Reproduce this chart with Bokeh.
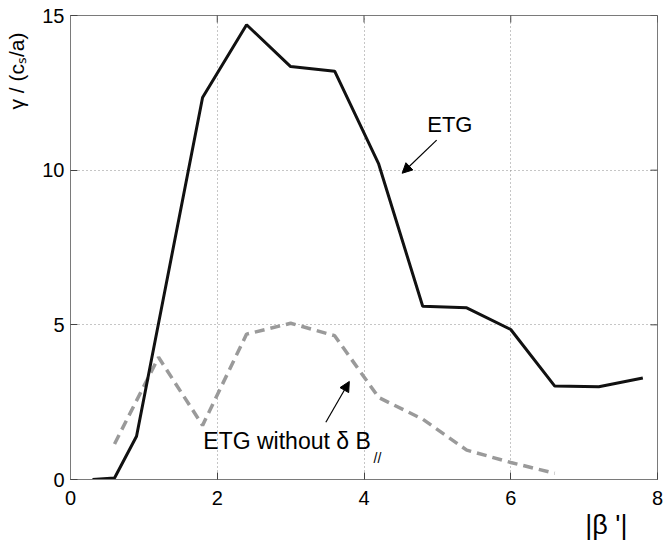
import math
from bokeh.plotting import figure
from bokeh.models import (Range1d, LinearAxis, FixedTicker, Label, Arrow, NormalHead, Title)
from bokeh.embed import file_html
from bokeh.resources import INLINE

# Data
x_etg = [0.3, 0.6, 0.9, 1.2, 1.8, 2.4, 3.0, 3.6, 4.2, 4.8, 5.4, 6.0, 6.6, 7.2, 7.8]
y_etg = [0.0, 0.05, 1.4, 5.05, 12.35, 14.7, 13.35, 13.2, 10.2, 5.6, 5.55, 4.85, 3.02, 3.0, 3.28]

x_nobpar = [0.6, 1.2, 1.8, 2.4, 3.0, 3.6, 4.2, 4.8, 5.4, 6.0, 6.6]
y_nobpar = [1.15, 3.95, 1.75, 4.7, 5.05, 4.65, 2.65, 1.95, 0.95, 0.55, 0.2]

x_ticks = [0, 2, 4, 6, 8]
y_ticks = [0, 5, 10, 15]

X_MIN, X_MAX = 0, 8
Y_MIN, Y_MAX = 0, 15

FONT = "Liberation Sans"

p = figure(width=663, height=542, output_backend="svg", toolbar_location=None,
           x_range=Range1d(X_MIN, X_MAX), y_range=Range1d(Y_MIN, Y_MAX),
           x_axis_location=None, y_axis_location=None,
           min_border_left=70, min_border_right=6, min_border_top=15, min_border_bottom=63)
p.background_fill_color = "white"
p.border_fill_color = "white"
p.outline_line_color = "#7a7a7a"
p.outline_line_width = 1

def make_axis(ticker, standoff):
    ax = LinearAxis(ticker=FixedTicker(ticks=ticker))
    ax.major_tick_in = 7
    ax.major_tick_out = 0
    ax.minor_tick_in = 0
    ax.minor_tick_out = 0
    ax.major_tick_line_color = "#444444"
    ax.axis_line_color = "#7a7a7a"
    ax.major_label_standoff = standoff
    ax.major_label_text_font = FONT
    ax.major_label_text_color = "black"
    ax.major_label_text_font_size = "20px"
    return ax

p.add_layout(make_axis(x_ticks, 11), "below")
p.add_layout(make_axis(y_ticks, 6), "left")

# inward ticks on the top and right edges (half of each dash marker is clipped by the frame)
p.scatter(x_ticks, [Y_MAX] * len(x_ticks), marker="dash", size=14, angle=math.pi / 2,
          line_color="#444444", line_width=1)
p.scatter([X_MAX] * len(y_ticks), y_ticks, marker="dash", size=14, angle=0,
          line_color="#444444", line_width=1)

p.xgrid.ticker = FixedTicker(ticks=x_ticks)
p.ygrid.ticker = FixedTicker(ticks=y_ticks)
for g in (p.xgrid, p.ygrid):
    g.grid_line_color = "#8c8c8c"
    g.grid_line_dash = "1 3"
    g.grid_line_width = 1

p.line(x_nobpar, y_nobpar, line_color="#9a9a9a", line_width=3.5, line_dash="10 6")
p.line(x_etg, y_etg, line_color="#111111", line_width=3)

# annotations
p.add_layout(Label(x=5.17, y=11.48, text="ETG", text_font=FONT, text_font_size="22px",
                   text_align="center", text_baseline="middle", text_color="black"))
p.add_layout(Arrow(x_start=4.99, y_start=10.97, x_end=4.52, y_end=9.9, line_width=1.2,
                   line_color="black",
                   end=NormalHead(size=10, fill_color="black", line_color="black")))

p.add_layout(Label(x=1.81, y=1.23, text="ETG without δ B", text_font=FONT, text_font_size="23px",
                   text_align="left", text_baseline="middle", text_color="black"))
p.add_layout(Label(x=4.13, y=0.71, text="//", text_font=FONT, text_font_size="14px",
                   text_align="left", text_baseline="middle", text_color="black"))
p.add_layout(Arrow(x_start=3.48, y_start=1.85, x_end=3.80, y_end=3.17, line_width=1.2,
                   line_color="black",
                   end=NormalHead(size=10, fill_color="black", line_color="black")))

# axis titles
ytitle = Title(text="γ / (cₛ/a)", align="right", offset=17, standoff=0,
               padding=dict(left=0, right=0, top=0, bottom=12),
               text_font=FONT, text_font_size="21px", text_font_style="normal",
               text_color="black")
p.add_layout(ytitle, "left")
xtitle = Title(text="|β '|", align="right", offset=30, standoff=0,
               text_font=FONT, text_font_size="27px", text_font_style="normal",
               text_color="black")
p.add_layout(xtitle, "below")

open("out.html", "w").write(file_html(p, INLINE))
